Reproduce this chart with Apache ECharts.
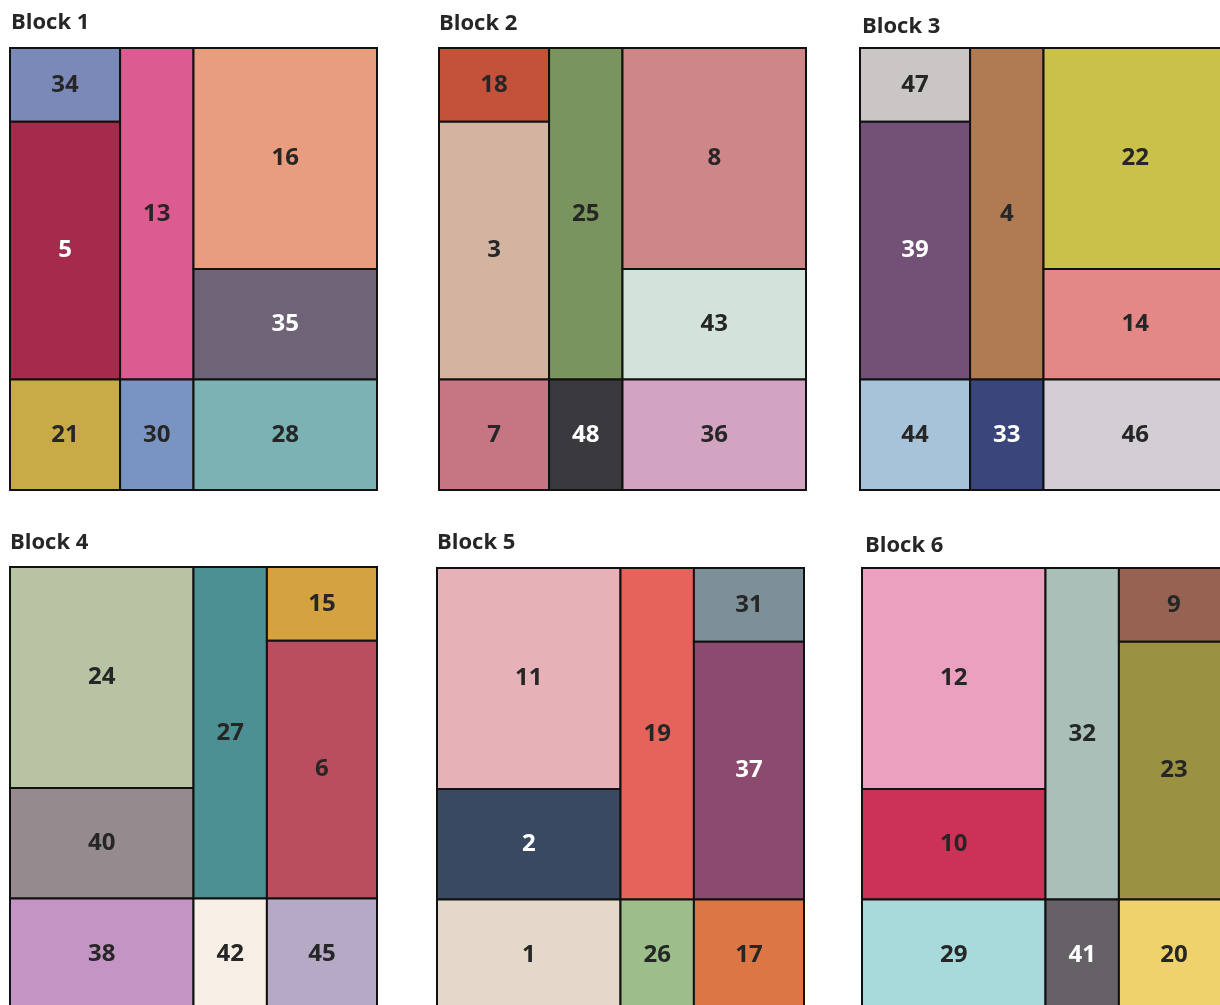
<!DOCTYPE html>
<html><head><meta charset="utf-8">
<script src="https://cdn.jsdelivr.net/npm/echarts@6/dist/echarts.min.js"></script>
<style>html,body{margin:0;padding:0;background:#fff;overflow:hidden}#c{width:1240px;height:1020px}</style>
</head><body><div id="c"></div>
<script>
// Block titles
const blockNames = ['Block 1','Block 2','Block 3','Block 4','Block 5','Block 6'];
// Plot cells per block: [plotId, x0, x1, y0, y1] in layout units (width 10, height 12)
const block1 = [[34,0,3,0,2],[5,0,3,2,9],[21,0,3,9,12],[13,3,5,0,9],[30,3,5,9,12],[16,5,10,0,6],[35,5,10,6,9],[28,5,10,9,12]];
const block2 = [[18,0,3,0,2],[3,0,3,2,9],[7,0,3,9,12],[25,3,5,0,9],[48,3,5,9,12],[8,5,10,0,6],[43,5,10,6,9],[36,5,10,9,12]];
const block3 = [[47,0,3,0,2],[39,0,3,2,9],[44,0,3,9,12],[4,3,5,0,9],[33,3,5,9,12],[22,5,10,0,6],[14,5,10,6,9],[46,5,10,9,12]];
const block4 = [[24,0,5,0,6],[40,0,5,6,9],[38,0,5,9,12],[27,5,7,0,9],[42,5,7,9,12],[15,7,10,0,2],[6,7,10,2,9],[45,7,10,9,12]];
const block5 = [[11,0,5,0,6],[2,0,5,6,9],[1,0,5,9,12],[19,5,7,0,9],[26,5,7,9,12],[31,7,10,0,2],[37,7,10,2,9],[17,7,10,9,12]];
const block6 = [[12,0,5,0,6],[10,0,5,6,9],[29,0,5,9,12],[32,5,7,0,9],[41,5,7,9,12],[9,7,10,0,2],[23,7,10,2,9],[20,7,10,9,12]];
const blocks = [block1,block2,block3,block4,block5,block6];
// Plot fill colours
const plotColors = {
 34:'#7b89b8',5:'#a62a4b',21:'#c8ab46',13:'#dc5c91',30:'#7a94c2',16:'#e89e7e',35:'#6f6378',28:'#7bb2b3',
 18:'#c4513a',3:'#d2b4a0',7:'#c67683',25:'#7a945e',48:'#3a393e',8:'#cf8689',43:'#d3e3dc',36:'#d3a4c1',
 47:'#cbc6c6',39:'#735075',44:'#a7c3da',4:'#b07b52',33:'#3a467b',22:'#c9c149',14:'#e38787',46:'#d3ced6',
 24:'#b7c3a3',40:'#958b8f',38:'#c394c4',27:'#4c9094',42:'#f7efe5',15:'#d4a23e',6:'#b94f5e',45:'#b5a9c6',
 11:'#e6b1b7',2:'#3a4962',1:'#e3d8c9',19:'#e6635c',26:'#9bbe8a',31:'#7d8f97',37:'#8b4a6e',17:'#dc7645',
 12:'#eca0c0',10:'#cc3256',29:'#a8d9db',32:'#aabfb7',41:'#666166',9:'#966352',23:'#9a9142',20:'#f0d26c'
};
const whiteLabels = [5,35,48,39,33,2,37,41];

const gridPos = [[10,48],[439,48],[860,48],[10,567],[437,568],[862,568]];
const titlePos = [[11,12],[439,13],[862,16],[10,532],[437,532],[865,535]];
const GW = 367, GH = 442;

const grids=[],xAxes=[],yAxes=[],series=[],titles=[];
blocks.forEach((cells,i)=>{
  grids.push({left:gridPos[i][0],top:gridPos[i][1],width:GW,height:GH});
  xAxes.push({gridIndex:i,type:'value',min:0,max:10,show:false});
  yAxes.push({gridIndex:i,type:'value',min:0,max:12,inverse:true,show:false});
  titles.push({text:blockNames[i],left:titlePos[i][0],top:titlePos[i][1],padding:0,
    textStyle:{fontFamily:'Open Sans',fontWeight:'bold',fontSize:22,color:'#262626'}});
  series.push({
    type:'custom',xAxisIndex:i,yAxisIndex:i,clip:false,
    data:cells,
    renderItem:(params,api)=>{
      const id=api.value(0);
      const p0=api.coord([api.value(1),api.value(3)]);
      const p1=api.coord([api.value(2),api.value(4)]);
      return {type:'group',children:[
        {type:'rect',shape:{x:p0[0],y:p0[1],width:p1[0]-p0[0],height:p1[1]-p0[1]},
         style:{fill:plotColors[id],stroke:'#111',lineWidth:2}},
        {type:'text',x:(p0[0]+p1[0])/2,y:(p0[1]+p1[1])/2,
         style:{text:String(id),fill:whiteLabels.includes(id)?'#ffffff':'#262626',
         font:'bold 24px "Open Sans"',align:'center',verticalAlign:'middle'}}
      ]};
    }
  });
});
const chart=echarts.init(document.getElementById('c'),null,{renderer:'canvas'});
chart.setOption({animation:false,title:titles,grid:grids,xAxis:xAxes,yAxis:yAxes,series:series});
</script></body></html>
